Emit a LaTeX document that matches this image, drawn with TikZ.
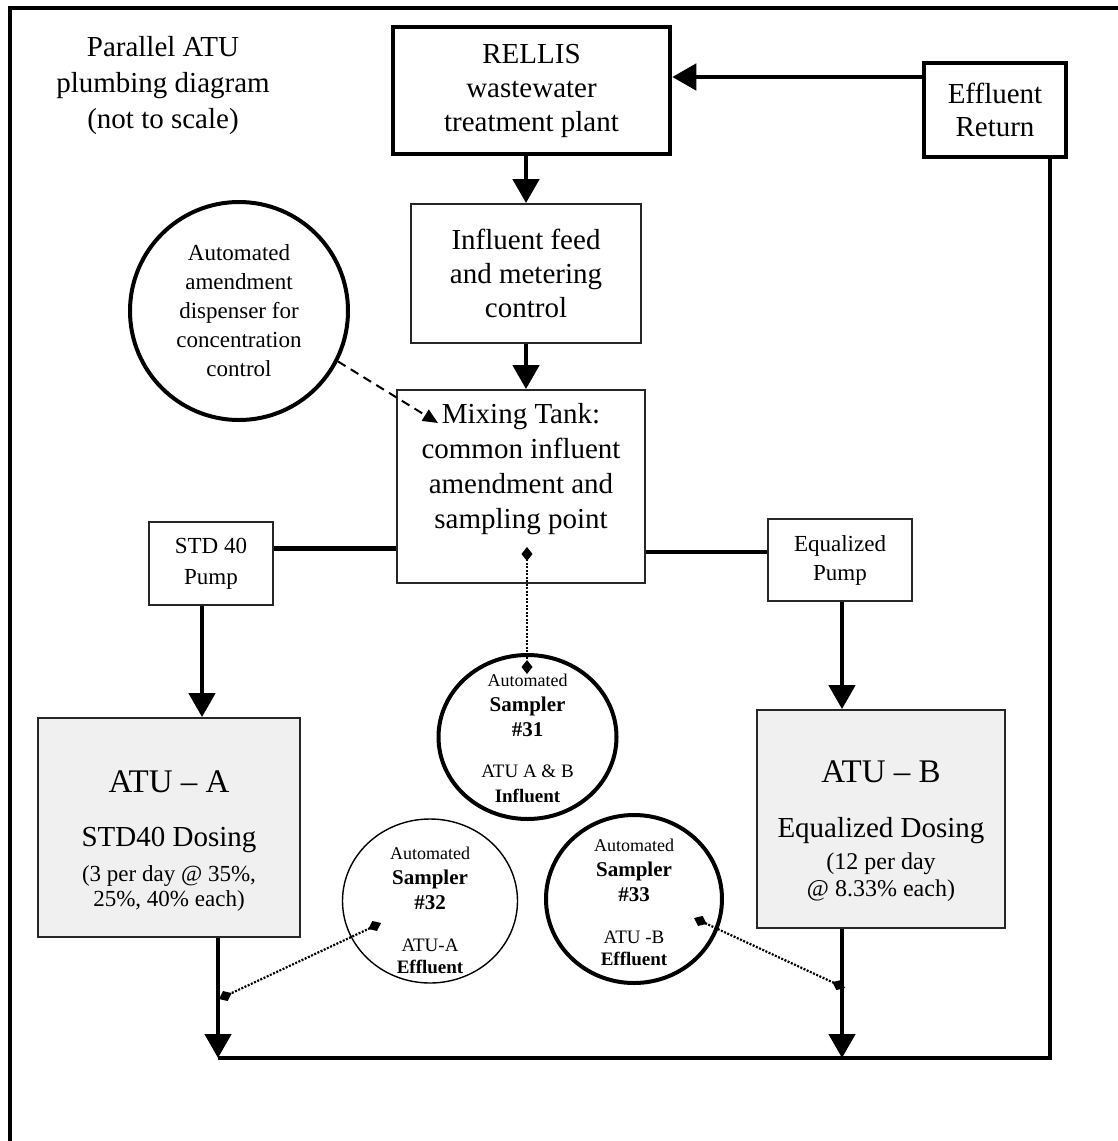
\documentclass[tikz,border=0pt]{standalone}
\usepackage{fontspec}
\setmainfont{Liberation Serif}
\usetikzlibrary{arrows.meta,shapes.geometric}

\begin{document}
\begin{tikzpicture}[x=1pt,y=-1pt,
  box/.style={draw=black!85,line width=1.8pt,inner sep=0,align=center},
  thickbox/.style={box,draw=black,line width=4.5pt},
  atu/.style={box,fill=black!6},
  smp/.style={ellipse,draw,line width=4pt,inner sep=0},
  txt/.style={inner sep=0,align=center},
  smptxt/.style={txt,font=\fontsize{19}{25}\selectfont},
  pipe/.style={line width=4.6pt},
  flow/.style={pipe,-{Triangle[length=24pt,width=26pt]}},
  probe/.style={line width=2.2pt,dash pattern=on 2pt off 1.5pt,
    {Diamond[length=14pt,width=11pt]}-{Diamond[length=14pt,width=11pt]}},
  dose/.style={line width=2pt,dash pattern=on 9pt off 6pt,
    -{Triangle[length=15pt,width=13pt]}}]
\useasboundingbox (0,0) rectangle (1118,1141);
\draw[line width=3.2pt] (10,1141) -- (10,8) -- (1118,8);

% top row
\node[txt,font=\fontsize{29}{36}\selectfont] (title) at (163,86)
  {Parallel ATU\\plumbing diagram\\(not to scale)};
\node[thickbox,minimum width=277,minimum height=127,font=\fontsize{29}{34}\selectfont]
  (rellis) at (531.5,90.5) {RELLIS\\wastewater\\treatment plant};
\node[thickbox,minimum width=142,minimum height=94,font=\fontsize{29}{33}\selectfont]
  (ret) at (995,110) {Effluent\\Return};
\node[box,minimum width=230,minimum height=139,font=\fontsize{29}{34}\selectfont]
  (feed) at (526,273.5) {Influent feed\\and metering\\control};
\node[circle,draw,line width=4pt,inner sep=0,minimum size=218,align=center,
  font=\fontsize{23}{29}\selectfont] (disp) at (239,311)
  {Automated\\amendment\\dispenser for\\concentration\\control};

% mixing tank and pumps
\node[box,minimum width=248,minimum height=193] (mix) at (521,486.5) {};
\node[txt,font=\fontsize{29}{35}\selectfont] (mixt) at (521,469)
  {Mixing Tank:\\common influent\\amendment and\\sampling point};
\node[box,minimum width=124,minimum height=83,font=\fontsize{23}{31}\selectfont]
  (stdp) at (211,563.5) {STD 40\\Pump};
\node[box,minimum width=144,minimum height=82,font=\fontsize{23}{29}\selectfont]
  (eqp) at (840,560) {Equalized\\Pump};

% treatment units
\node[atu,minimum width=262,minimum height=219] (atuA) at (169,827.5) {};
\node[txt,font=\fontsize{23}{25}\selectfont] (atuAt) at (169,841)
  {{\fontsize{33}{33}\selectfont ATU -- A}\\[29pt]
   {\fontsize{29}{29}\selectfont STD40 Dosing}\\[10pt]
   (3 per day @ 35\%,\\25\%, 40\% each)};
\node[atu,minimum width=248,minimum height=218] (atuB) at (881,819) {};
\node[txt,font=\fontsize{24}{27}\selectfont] (atuBt) at (881,831)
  {{\fontsize{33}{33}\selectfont ATU -- B}\\[28pt]
   {\fontsize{29}{29}\selectfont Equalized Dosing}\\[5pt]
   (12 per day\\@ 8.33\% each)};

% samplers
\node[smp,minimum width=178,minimum height=164] (s31) at (527.5,737) {};
\node[smptxt] (s31t) at (527.5,738)
  {{\fontsize{18}{25}\selectfont Automated}\\
   \textbf{\fontsize{21}{25}\selectfont Sampler}\\
   \textbf{\fontsize{21}{25}\selectfont \#31}\\[16pt]
   ATU A \& B\\
   \textbf{Influent}};
\node[smp,line width=1.4pt,minimum width=175,minimum height=164] (s32) at (430,901) {};
\node[smptxt] (s32t) at (430,910)
  {{\fontsize{18}{25}\selectfont Automated}\\
   \textbf{\fontsize{21}{25}\selectfont Sampler}\\
   \textbf{\fontsize{21}{25}\selectfont \#32}\\[17pt]
   ATU-A\\[-3pt]
   \textbf{Effluent}};
\node[smp,minimum width=176,minimum height=168] (s33) at (634,899) {};
\node[smptxt] (s33t) at (634,902)
  {{\fontsize{18}{25}\selectfont Automated}\\
   \textbf{\fontsize{21}{25}\selectfont Sampler}\\
   \textbf{\fontsize{21}{25}\selectfont \#33}\\[17pt]
   ATU -B\\[-3pt]
   \textbf{Effluent}};

% pipe junctions and sampling points
\coordinate (joinA) at (218,1058);
\coordinate (joinB) at (842,1058);
\coordinate (dosetip) at (438,423);
\coordinate (m31) at (527,547);
\coordinate (p31) at (527,674);
\coordinate (p32) at (381,923);
\coordinate (a32) at (219,999);
\coordinate (p33) at (694,918);
\coordinate (b33) at (845,988);

% flow
\draw[flow] ([yshift=33pt]ret.west) -- ([yshift=33pt]ret.west -| rellis.east);
\draw[flow] (rellis.south -| feed.north) -- (feed.north);
\draw[flow] (feed.south) -- (feed.south |- mix.north);
\draw[pipe] ([yshift=15pt]stdp.east) -- ([yshift=15pt]stdp.east -| mix.west);
\draw[pipe] ([yshift=8pt]eqp.west) -- ([yshift=8pt]eqp.west -| mix.east);
\draw[flow] ([xshift=-9pt]stdp.south) -- ([xshift=-9pt]stdp.south |- atuA.north);
\draw[flow] ([xshift=2pt]eqp.south) -- ([xshift=2pt]eqp.south |- atuB.north);
\draw[flow] (atuA.south -| joinA) -- (joinA);
\draw[flow] (atuB.south -| joinB) -- (joinB);
\draw[pipe] ([xshift=55pt]ret.south) |- (joinA);
\draw[dose] (disp.-27) -- (dosetip);
\draw[probe] (m31) -- (p31);
\draw[probe] (p32) -- (a32);
\draw[probe] (p33) -- (b33);
\end{tikzpicture}
\end{document}
